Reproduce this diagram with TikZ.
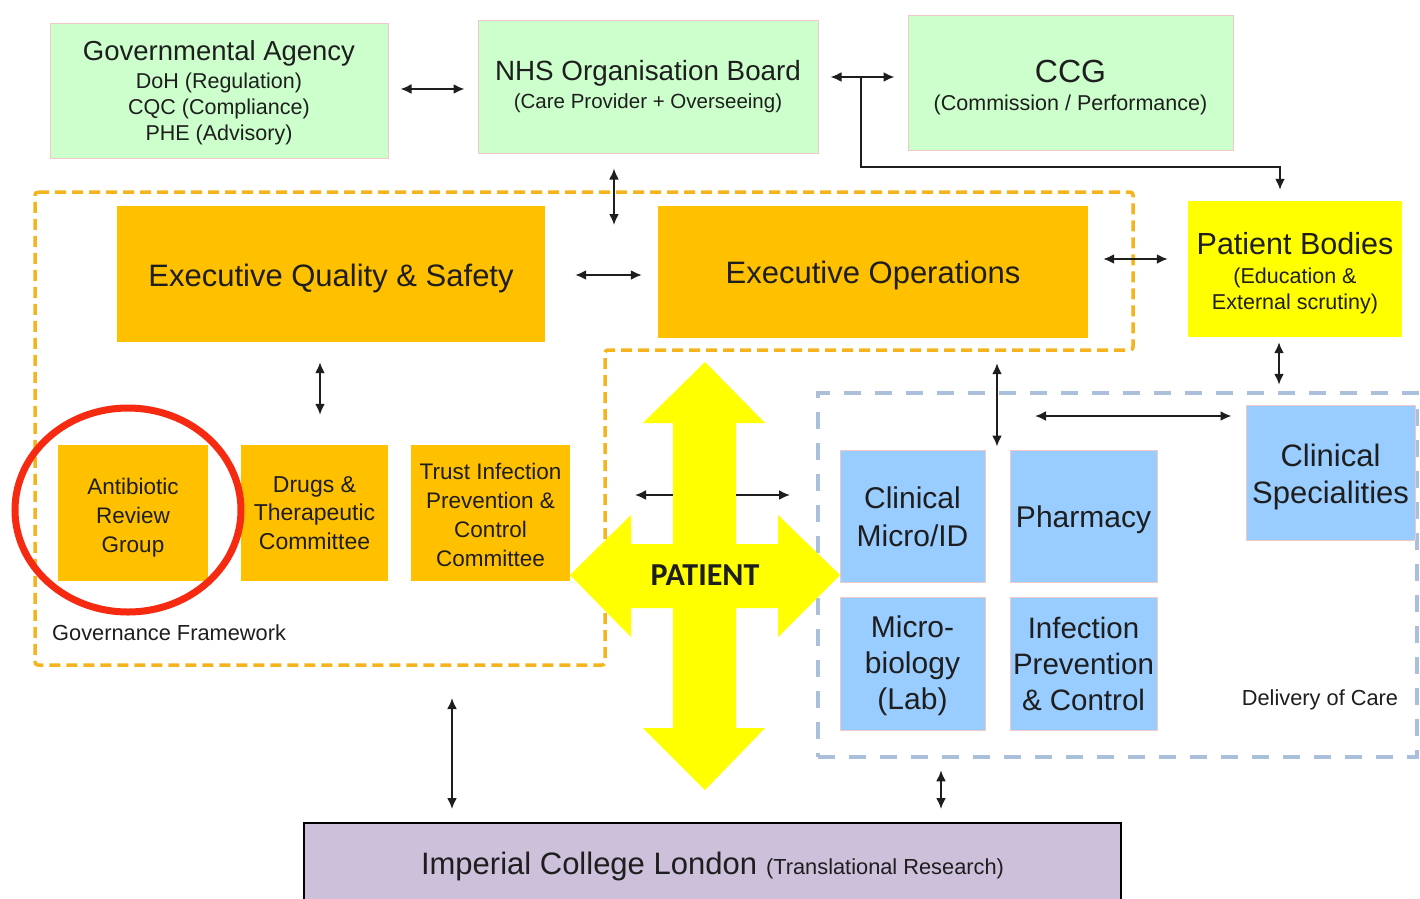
\documentclass[tikz,border=0pt]{standalone}
\usepackage{fontspec}
\setmainfont{Liberation Sans}
\newfontfamily\calibfont{Carlito}
\usetikzlibrary{arrows.meta}
\definecolor{govgreen}{HTML}{CCFFCC}
\definecolor{pinkedge}{HTML}{F0C8C8}
\definecolor{execorange}{HTML}{FFC000}
\definecolor{pbyellow}{HTML}{FFFF00}
\definecolor{careblue}{HTML}{99CCFF}
\definecolor{impurple}{HTML}{CCC0DA}
\definecolor{dashorange}{HTML}{F5B41E}
\definecolor{dashblue}{HTML}{A9BFDA}
\definecolor{ringred}{HTML}{F52A10}
\definecolor{txt}{HTML}{1E1E1E}
\newcommand\fsz[2]{\fontsize{#1pt}{#2pt}\selectfont}
\newcommand\tp[1]{\rule{0pt}{#1pt}}
\begin{document}
\begin{tikzpicture}[x=1pt,y=-1pt,
  box/.style={inner sep=0pt, align=center, text=txt},
  greenbox/.style={box, fill=govgreen, draw=pinkedge, line width=1pt},
  execbox/.style={box, fill=execorange, draw=none},
  pbbox/.style={box, fill=pbyellow, draw=none},
  bluebox/.style={box, fill=careblue, draw=pinkedge, line width=1pt},
  impbox/.style={box, fill=impurple, draw=black, line width=2pt},
  dbl/.style={{Latex[length=11pt,width=10pt]}-{Latex[length=11pt,width=10pt]}, line width=2pt, draw=txt},
  sgl/.style={-{Latex[length=11pt,width=10pt]}, line width=2pt, draw=txt},
  plainlabel/.style={inner sep=0pt, text=txt, font=\fsz{21.8}{24}},
]
\fill[white] (0,0) rectangle (1420,898);
\useasboundingbox (0,0) rectangle (1420,898);

% frames
\draw[dashorange, line width=3.5pt, dash pattern=on 11pt off 6pt, rounded corners=3pt]
  (35,192) -- (1133,192) -- (1133,350) -- (605,350) -- (605,665) -- (35,665) -- cycle;
\node[draw=dashblue, line width=4.5pt, dash pattern=on 17pt off 14pt, minimum width=599pt, minimum height=364pt, inner sep=0pt] (doc) at (1117.5,575) {};

% top row
\node[greenbox, minimum width=338pt, minimum height=135pt, font=\fsz{21.5}{26}] (gov) at (219,90.5)
  {{\fsz{27.5}{30}\tp{24}Governmental Agency}\\[2pt] DoH (Regulation)\\ CQC (Compliance)\\ PHE (Advisory)};
\node[greenbox, minimum width=340pt, minimum height=133pt, font=\fsz{20.5}{28}] (nhs) at (648,86.5)
  {{\fsz{27.8}{30}NHS Organisation Board}\\ (Care Provider + Overseeing)};
\node[greenbox, minimum width=325pt, minimum height=135pt, font=\fsz{21.5}{28.5}] (ccg) at (1070.5,82.5)
  {{\fsz{32}{34}\tp{32.7}CCG}\\ (Commission / Performance)};

% executive row
\node[execbox, minimum width=428pt, minimum height=136pt, font=\fsz{31}{36}] (eqs) at (331,274) {\tp{30.6}Executive Quality \& Safety};
\node[execbox, minimum width=430pt, minimum height=132pt, font=\fsz{31}{36}] (eops) at (873,272) {\tp{28.6}Executive Operations};
\node[pbbox, minimum width=214pt, minimum height=136pt, font=\fsz{21.5}{26}] (pb) at (1295,269)
  {{\fsz{30.5}{32}\tp{30.3}Patient Bodies}\\[3pt] (Education \&\\ External scrutiny)};

% committees
\node[execbox, minimum width=150pt, minimum height=136pt, font=\fsz{22.5}{29}] (arg) at (133,513) {\tp{26.4}Antibiotic\\Review\\Group};
\node[execbox, minimum width=147pt, minimum height=136pt, font=\fsz{23}{28.5}] (dtc) at (314.5,513) {Drugs \&\\Therapeutic\\Committee};
\node[execbox, minimum width=159pt, minimum height=136pt, font=\fsz{22.5}{29}] (tipc) at (490.5,513) {\tp{20.4}Trust Infection\\Prevention \&\\Control\\Committee};
\node[plainlabel, anchor=west] (govfw) at (52,633) {Governance Framework};

% delivery of care
\node[bluebox, minimum width=145pt, minimum height=132pt, font=\fsz{30}{38}] (cmid) at (912.5,516) {\tp{23.9}Clinical\\Micro/ID};
\node[bluebox, minimum width=147pt, minimum height=132pt, font=\fsz{30}{38}] (pharm) at (1083.5,516) {\tp{29.9}Pharmacy};
\node[bluebox, minimum width=145pt, minimum height=133pt, font=\fsz{30}{36}] (mlab) at (912.5,663.5) {\tp{25.9}Micro-\\biology\\(Lab)};
\node[bluebox, minimum width=147pt, minimum height=133pt, font=\fsz{29.5}{36}] (ipc) at (1083.5,663.5) {Infection\\Prevention\\\& Control};
\node[bluebox, minimum width=169pt, minimum height=135pt, font=\fsz{31}{37}] (cspec) at (1330.5,472.5) {\tp{30.6}Clinical\\Specialities};
\node[plainlabel] (doclabel) at (1320,700) {Delivery of Care};

% imperial
\node[impbox, minimum width=817pt, minimum height=82pt] (imp) at (712.5,864)
  {{\fsz{31}{34}\tp{26.6}Imperial College London}\hspace{9pt}{\fsz{21.8}{24}(Translational Research)}};

% patient cross
\fill[pbyellow] (705,362) -- (765,423) -- (736,423) -- (736,544) -- (778,544) -- (778,515) -- (840,575)
  -- (778,637) -- (778,608) -- (736,608) -- (736,728) -- (765,728) -- (705,790) -- (643,728)
  -- (673,728) -- (673,608) -- (631,608) -- (631,637) -- (570,575) -- (631,515) -- (631,544)
  -- (673,544) -- (673,423) -- (643,423) -- cycle;
\node[inner sep=0pt, text=txt, font=\calibfont\bfseries\fsz{32}{34}] (patient) at (705,575) {PATIENT};

% ring
\draw[ringred, line width=7pt] (128,510) ellipse [x radius=113pt, y radius=102pt];

% connectors
\coordinate (branch) at (861,77);
\coordinate (frametop) at (614,225);
\coordinate (framebottom) at (452,698);
\coordinate (careleft) at (1035,416);
\coordinate (crossL) at (673,495);
\coordinate (crossLend) at (635,495);
\coordinate (crossR) at (736,495);
\coordinate (crossRend) at (790,495);

\draw[dbl, shorten <=12pt, shorten >=13pt] (gov.east |- 0,89) -- (nhs.west |- 0,89);
\draw[dbl, shorten <=12pt, shorten >=13pt] (nhs.east |- 0,77) -- (ccg.west |- 0,77);
\draw[sgl] (branch) |- ([xshift=-15pt,yshift=34pt]pb.north) -- ([xshift=-15pt,yshift=11pt]pb.north);
\draw[dbl, shorten <=15pt] (nhs.south -| 614,0) -- (frametop);
\draw[dbl, shorten <=30pt, shorten >=16pt] (eqs.east |- 0,275) -- (eops.west |- 0,275);
\draw[dbl, shorten <=15pt, shorten >=20pt] (eops.east |- 0,259) -- (pb.west |- 0,259);
\draw[dbl, shorten <=5pt, shorten >=6pt] (pb.south -| 1279,0) -- (doc.north -| 1279,0);
\draw[dbl, shorten <=20pt, shorten >=30pt] (eqs.south -| 320,0) -- (dtc.north -| 320,0);
\draw[dbl, shorten <=25pt, shorten >=3pt] (eops.south -| 997,0) -- (cmid.north -| 997,0);
\draw[dbl, shorten >=14pt] (careleft) -- (cspec.west |- 0,416);
\draw[dbl, shorten <=11pt, shorten >=13pt] (doc.south -| 941,0) -- (imp.north -| 941,0);
\draw[dbl, shorten >=13pt] (framebottom) -- (imp.north -| 452,0);
\draw[sgl] (crossL) -- (crossLend);
\draw[sgl] (crossR) -- (crossRend);
\end{tikzpicture}
\end{document}
